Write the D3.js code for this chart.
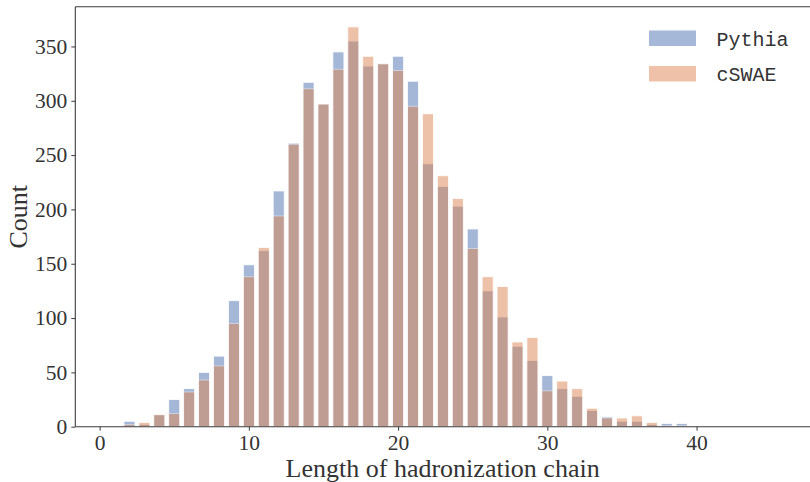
<!DOCTYPE html>
<html>
<head>
<meta charset="utf-8">
<script src="https://cdn.jsdelivr.net/npm/d3@7"></script>
<style>
  body { margin: 0; background: #fff; }
  svg { display: block; }
</style>
</head>
<body>
<div id="chart"></div>
<script>
// histogram counts per chain length (0..39)
const lengths = d3.range(0, 40);
const pythia = [0,0,5,2,11,25,35,50,65,116,149,162,217,261,317,297,345,355,332,334,341,318,242,221,203,182,125,101,74,61,47,35,28,15,9,5,5,2,3,3];
const cswae  = [0,0,2,4,11,12,32,43,56,95,138,165,194,260,311,297,329,368,341,334,328,295,288,231,210,164,138,129,78,82,33,42,35,17,8,8,10,4,1,1];
const seriesNames = ["Pythia", "cSWAE"];
const xTicks = [0, 10, 20, 30, 40];
const yTicks = [0, 50, 100, 150, 200, 250, 300, 350];

const W = 810, H = 482;
const margin = { top: 6.7, right: 0, bottom: 55.3, left: 75.3 };
const width = W - margin.left - margin.right,
      height = H - margin.top - margin.bottom;

const colors = ["#4c72b0", "#dd8452"];
const serif = "'Liberation Serif', 'DejaVu Serif', serif";
const mono = "'Liberation Mono', 'DejaVu Sans Mono', monospace";

const svg = d3.select("#chart").append("svg")
    .attr("width", W).attr("height", H);
const g = svg.append("g")
    .attr("transform", `translate(${margin.left},${margin.top})`);

const x = d3.scaleLinear().domain([-1.63, 47.6]).range([0, width]);
const y = d3.scaleLinear().domain([0, 386.6]).range([height, 0]);
const barW = 0.74;

// bars: Pythia first, cSWAE drawn over it
[pythia, cswae].forEach(function (vals, i) {
  g.append("g").selectAll("rect")
    .data(lengths.map(function (l, j) { return [l, vals[j]]; }).filter(function (d) { return d[1] > 0; }))
    .enter().append("rect")
    .attr("x", function (d) { return x(d[0] - barW / 2); })
    .attr("y", function (d) { return y(d[1]); })
    .attr("width", x(barW) - x(0))
    .attr("height", function (d) { return y(0) - y(d[1]); })
    .attr("fill", colors[i])
    .attr("stroke", "#fff")
    .attr("stroke-width", 0.8)
    .attr("opacity", 0.5);
});

// axes
const xAxis = g.append("g")
    .attr("transform", `translate(0,${height})`)
    .call(d3.axisBottom(x).tickValues(xTicks).tickSize(4).tickPadding(4).tickFormat(d3.format("d")));
const yAxis = g.append("g")
    .call(d3.axisLeft(y).tickValues(yTicks).tickSize(4).tickPadding(4).tickFormat(d3.format("d")));

[xAxis, yAxis].forEach(function (a) {
  a.select(".domain").attr("stroke", "#3a3a3a").attr("stroke-width", 1.1);
  a.selectAll(".tick line").attr("stroke", "#3a3a3a").attr("stroke-width", 1);
  a.selectAll(".tick text")
    .attr("fill", "#333")
    .style("font-family", serif)
    .style("font-size", "21.5px");
});
xAxis.select(".domain").attr("d", `M0,0H${width}`);
yAxis.select(".domain").attr("d", `M0,${height}V0`);

// top spine
g.append("line")
    .attr("x1", 0).attr("x2", width).attr("y1", 0).attr("y2", 0)
    .attr("stroke", "#3a3a3a").attr("stroke-width", 1.1);

// axis labels
svg.append("text")
    .attr("x", margin.left + width / 2).attr("y", 477)
    .attr("text-anchor", "middle")
    .attr("fill", "#333")
    .style("font-family", serif).style("font-size", "26px")
    .text("Length of hadronization chain");

svg.append("text")
    .attr("transform", `translate(27,${margin.top + height / 2}) rotate(-90)`)
    .attr("text-anchor", "middle")
    .attr("fill", "#333")
    .style("font-family", serif).style("font-size", "26px")
    .text("Count");

// legend
const legend = svg.append("g").attr("transform", "translate(649,30.5)");
seriesNames.forEach(function (name, i) {
  const row = legend.append("g").attr("transform", `translate(0,${i * 35.5})`);
  row.append("rect")
    .attr("width", 47).attr("height", 15.5)
    .attr("fill", colors[i]).attr("opacity", 0.5);
  row.append("text")
    .attr("x", 67.5).attr("y", 15)
    .attr("fill", "#333")
    .style("font-family", mono).style("font-size", "20px")
    .text(name);
});
</script>
</body>
</html>
